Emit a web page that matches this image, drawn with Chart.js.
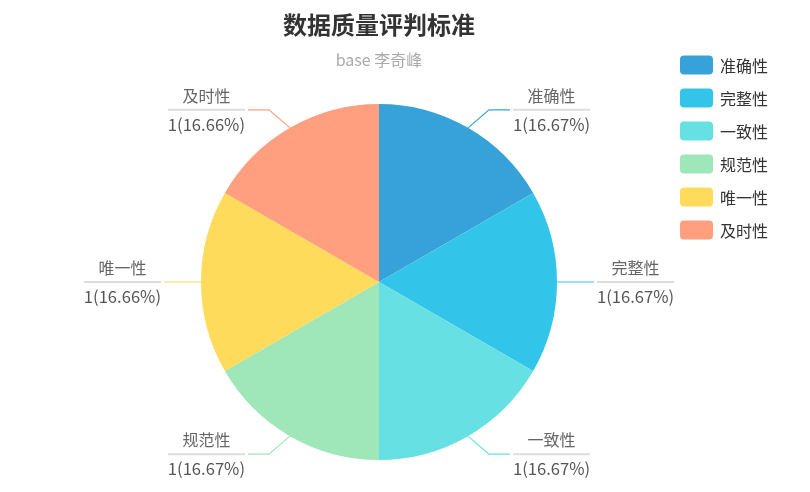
<!DOCTYPE html>
<html>
<head>
<meta charset="utf-8">
<script src="https://cdn.jsdelivr.net/npm/chart.js@4/dist/chart.umd.min.js"></script>
<style>
  html, body { margin: 0; padding: 0; background: #fff; }
  #wrap { width: 810px; height: 492px; }
</style>
</head>
<body>
<div id="wrap"><canvas id="qualityChart" width="810" height="492"></canvas></div>
<script>
// data
const categories = ['准确性', '完整性', '一致性', '规范性', '唯一性', '及时性'];
const values = [1, 1, 1, 1, 1, 1];
const colors = ['#37A2DA', '#32C5E9', '#67E0E3', '#9FE6B8', '#FFDB5C', '#ff9f7f'];
const titleText = '数据质量评判标准';
const subtitleText = 'base 李奇峰';

const FONT = '"Noto Sans CJK SC", "Noto Sans", sans-serif';

// percentages with largest remainder, 2 decimals (sums to 100)
function percents(vals, digits) {
    const sum = vals.reduce((a, b) => a + b, 0);
    const scale = Math.pow(10, digits);
    const raw = vals.map(v => v / sum * 100 * scale);
    const seats = raw.map(Math.floor);
    let left = 100 * scale - seats.reduce((a, b) => a + b, 0);
    const rem = raw.map((v, i) => v - seats[i]);
    while (left > 0) {
        let best = 0;
        for (let i = 1; i < rem.length; i++) if (rem[i] > rem[best]) best = i;
        seats[best]++; rem[best] = -1; left--;
    }
    return seats.map(s => (s / scale).toFixed(digits));
}
const pct = percents(values, 2);

// title, subtitle, legend
const decorPlugin = {
    id: 'decor',
    afterDraw(chart) {
        const ctx = chart.ctx;
        ctx.save();
        ctx.textAlign = 'center';
        ctx.textBaseline = 'middle';
        ctx.fillStyle = '#333';
        ctx.font = 'bold 24px ' + FONT;
        ctx.fillText(titleText, 379, 25);
        ctx.fillStyle = '#aaa';
        ctx.font = '16px ' + FONT;
        ctx.fillText(subtitleText, 379, 60);

        // legend
        ctx.textAlign = 'left';
        ctx.font = '16px ' + FONT;
        categories.forEach((name, i) => {
            const y = 65 + i * 33;
            ctx.fillStyle = colors[i];
            ctx.beginPath();
            ctx.roundRect(680, y - 9.5, 33, 19, 4);
            ctx.fill();
            ctx.fillStyle = '#333';
            ctx.fillText(name, 720, y + 1);
        });
        ctx.restore();
    }
};

// outside labels with leader lines
const labelPlugin = {
    id: 'pieLabels',
    afterDatasetsDraw(chart) {
        const ctx = chart.ctx;
        const meta = chart.getDatasetMeta(0);
        ctx.save();
        meta.data.forEach((arc, i) => {
            const p = arc.getProps(['x', 'y', 'startAngle', 'endAngle', 'outerRadius'], true);
            const mid = (p.startAngle + p.endAngle) / 2;
            const cx = Math.cos(mid), sy = Math.sin(mid);
            const ex = p.x + cx * p.outerRadius, ey = p.y + sy * p.outerRadius;
            const side = cx >= 0 ? 1 : -1;
            const diag = Math.abs(sy) > 0.1;
            const bx = diag ? ex + side * 21 : ex + side * 27;
            const by = diag ? ey + Math.sign(sy) * 18 : ey;
            const hx = bx + side * (diag ? 21 : 10);

            ctx.strokeStyle = colors[i];
            ctx.lineWidth = 1.2;
            ctx.beginPath();
            ctx.moveTo(ex, ey);
            ctx.lineTo(bx, by);
            ctx.lineTo(hx, by);
            ctx.stroke();

            const valueText = values[i] + '(' + pct[i] + '%)';
            ctx.font = '16.6px ' + FONT;
            const wv = ctx.measureText(valueText).width;
            ctx.font = '16px ' + FONT;
            const wn = ctx.measureText(categories[i]).width;
            const w = Math.max(wv, wn);
            const x0 = side > 0 ? hx + 3 : hx - 3 - w;
            ctx.strokeStyle = '#ddd';
            ctx.lineWidth = 2;
            ctx.beginPath();
            ctx.moveTo(x0, by);
            ctx.lineTo(x0 + w, by);
            ctx.stroke();

            ctx.textAlign = 'center';
            ctx.textBaseline = 'middle';
            ctx.fillStyle = '#666';
            ctx.fillText(categories[i], x0 + w / 2, by - 14);
            ctx.font = '16.6px ' + FONT;
            ctx.fillStyle = '#555';
            ctx.fillText(valueText, x0 + w / 2, by + 15);
        });
        ctx.restore();
    }
};

const ctx = document.getElementById('qualityChart').getContext('2d');
new Chart(ctx, {
    type: 'pie',
    data: {
        labels: categories,
        datasets: [{
            data: values,
            backgroundColor: colors,
            borderWidth: 0,
            hoverOffset: 0
        }]
    },
    options: {
        responsive: false,
        animation: false,
        devicePixelRatio: 1,
        events: [],
        layout: { padding: { top: 104, bottom: 32, left: 201, right: 253 } },
        plugins: {
            legend: { display: false },
            title: { display: false },
            tooltip: { enabled: false }
        }
    },
    plugins: [labelPlugin, decorPlugin]
});
</script>
</body>
</html>
